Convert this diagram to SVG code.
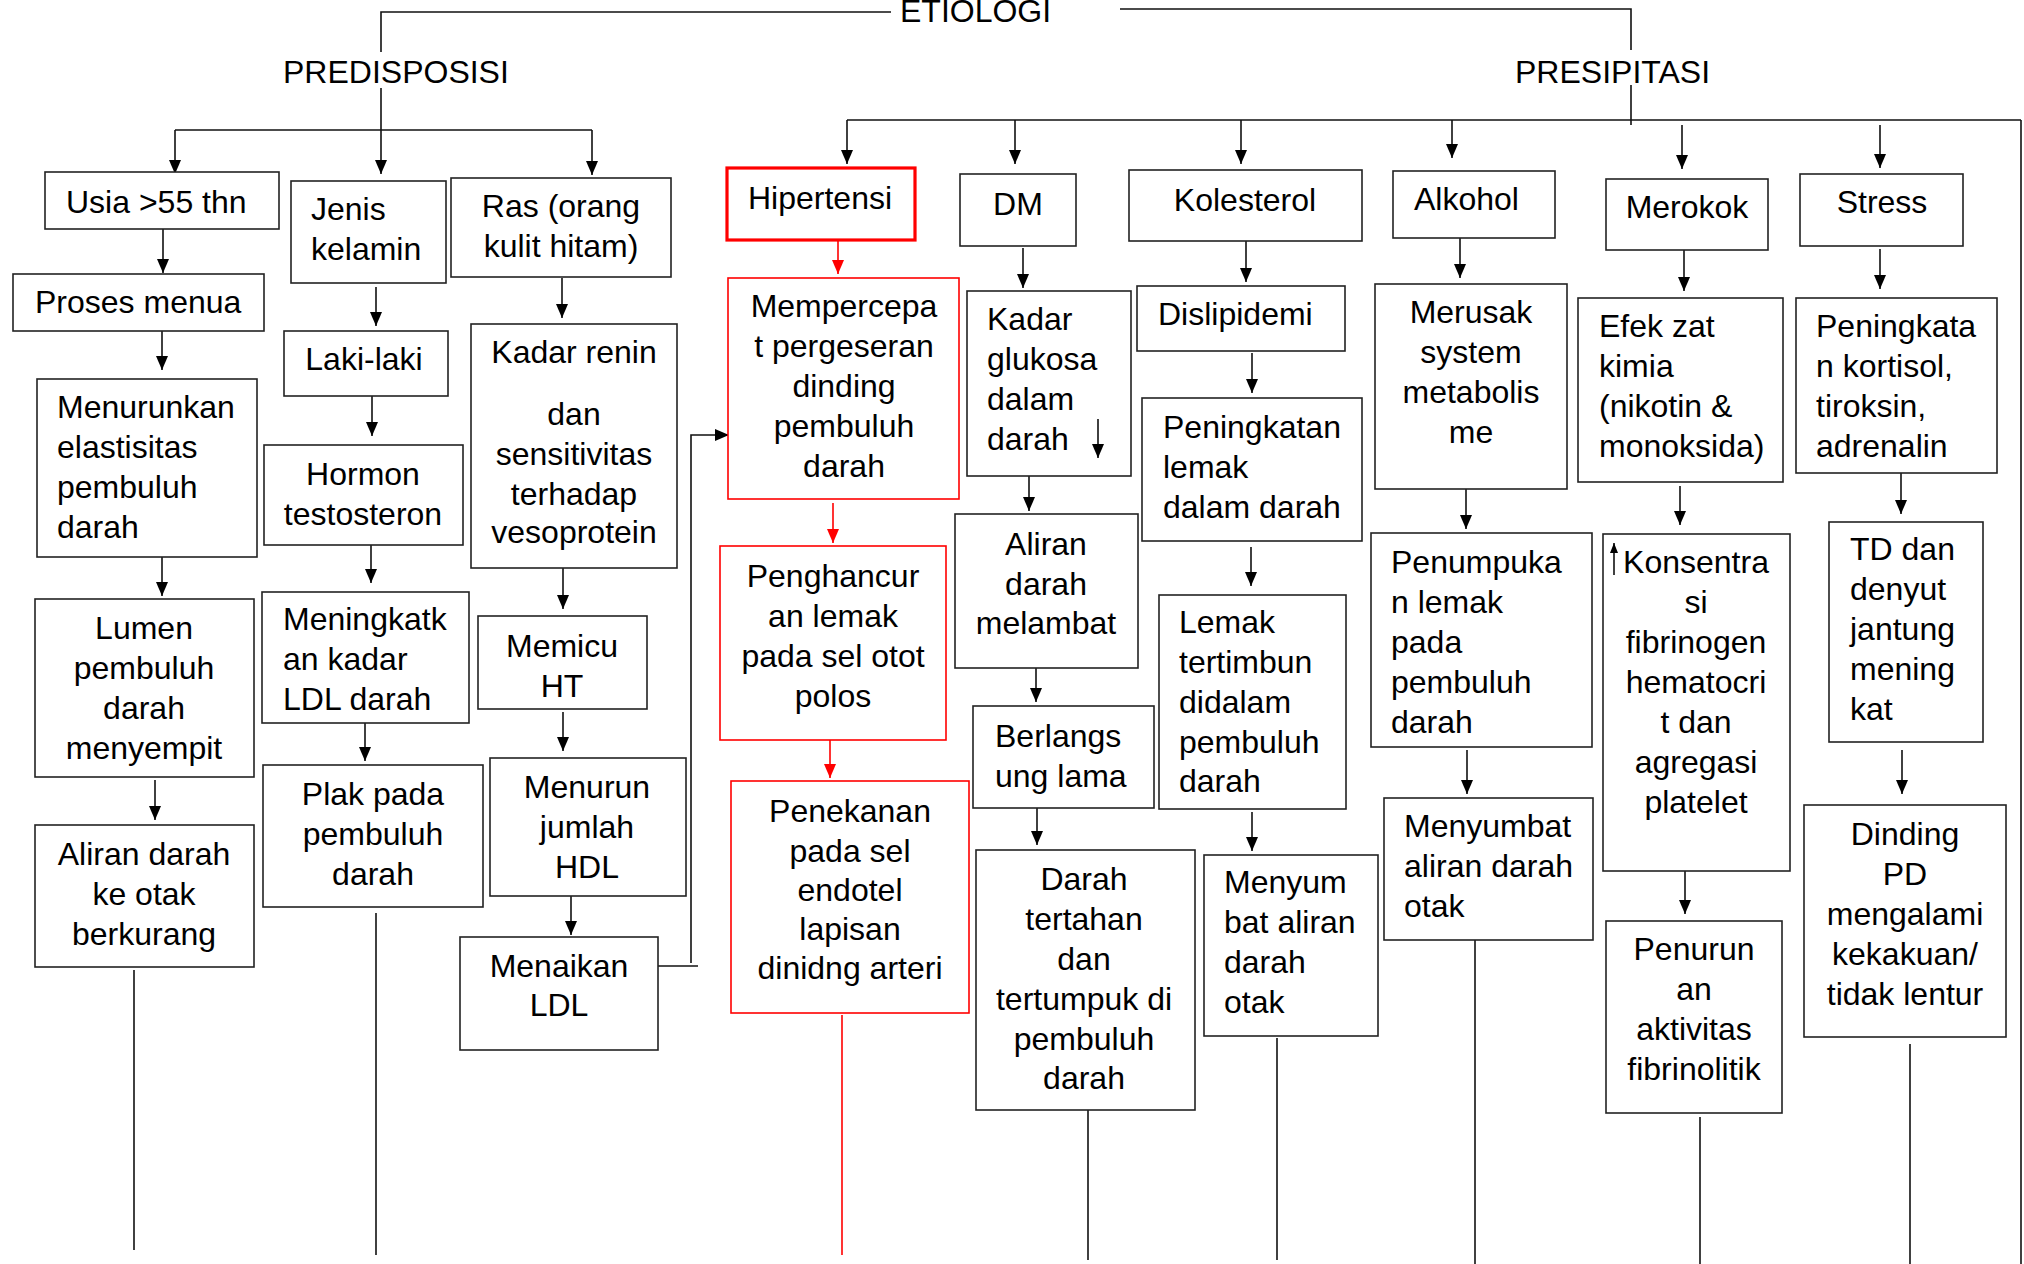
<svg xmlns="http://www.w3.org/2000/svg" width="2024" height="1264" viewBox="0 0 2024 1264">
  <style>
    .box { fill: #fff; stroke: #222; stroke-width: 1.6; }
    .rbox { fill: #fff; stroke: #f00; stroke-width: 1.6; }
    .rboxb { fill: #fff; stroke: #f00; stroke-width: 3.2; }
    .ln { fill: none; stroke: #111; stroke-width: 1.6; }
    .rln { fill: none; stroke: #f00; stroke-width: 1.6; }
    .arr { marker-end: url(#ah); }
    .rarr { marker-end: url(#rah); }
    text { font-family: "Liberation Sans", Arial, sans-serif; font-size: 32px; fill: #000; }
    .c { text-anchor: middle; }
  </style>
  <defs>
    <marker id="ah" markerUnits="userSpaceOnUse" markerWidth="14" markerHeight="14" viewBox="0 0 14 12" refX="14" refY="6" orient="auto">
      <path d="M0,0 L14,6 L0,12 Z" fill="#000"/>
    </marker>
    <marker id="rah" markerUnits="userSpaceOnUse" markerWidth="14" markerHeight="14" viewBox="0 0 14 12" refX="14" refY="6" orient="auto">
      <path d="M0,0 L14,6 L0,12 Z" fill="#f00"/>
    </marker>
    <marker id="ahs" markerUnits="userSpaceOnUse" markerWidth="10" markerHeight="10" viewBox="0 0 10 8" refX="10" refY="4" orient="auto">
      <path d="M0,0 L10,4 L0,8 Z" fill="#000"/>
    </marker>
  </defs>

  <rect width="2024" height="1264" fill="#fff"/>

  <!-- headings -->
  <g id="etiologi"><text x="900" y="22">ETIOLOGI</text></g>
  <g id="predisposisi"><text x="283" y="83">PREDISPOSISI</text></g>
  <g id="presipitasi"><text x="1515" y="83">PRESIPITASI</text></g>

  <g id="connectors">
    <!-- top bracket -->
    <polyline class="ln" points="381,52 381,12 891,12"/>
    <polyline class="ln" points="1120,9 1631,9 1631,50"/>
    <line class="ln" x1="1631" y1="85" x2="1631" y2="125"/>
    <!-- predisposisi branches -->
    <line class="ln arr" x1="381" y1="88" x2="381" y2="174"/>
    <polyline class="ln" points="175,130 592,130"/>
    <line class="ln arr" x1="175" y1="130" x2="175" y2="174"/>
    <line class="ln arr" x1="592" y1="130" x2="592" y2="175"/>
    <!-- presipitasi branches -->
    <line class="ln" x1="847" y1="120" x2="2021" y2="120"/>
    <line class="ln" x1="2021" y1="120" x2="2021" y2="1264"/>
    <line class="ln arr" x1="847" y1="120" x2="847" y2="164"/>
    <line class="ln arr" x1="1015" y1="120" x2="1015" y2="164"/>
    <line class="ln arr" x1="1241" y1="120" x2="1241" y2="164"/>
    <line class="ln arr" x1="1452" y1="120" x2="1452" y2="158"/>
    <line class="ln arr" x1="1682" y1="125" x2="1682" y2="169"/>
    <line class="ln arr" x1="1880" y1="125" x2="1880" y2="168"/>

    <!-- usia column -->
    <line class="ln arr" x1="163" y1="229" x2="163" y2="273"/>
    <line class="ln arr" x1="162" y1="331" x2="162" y2="370"/>
    <line class="ln arr" x1="162" y1="557" x2="162" y2="596"/>
    <line class="ln arr" x1="155" y1="780" x2="155" y2="820"/>
    <line class="ln" x1="134" y1="970" x2="134" y2="1250"/>
    <!-- jenis kelamin column -->
    <line class="ln arr" x1="376" y1="287" x2="376" y2="326"/>
    <line class="ln arr" x1="372" y1="396" x2="372" y2="436"/>
    <line class="ln arr" x1="371" y1="545" x2="371" y2="583"/>
    <line class="ln arr" x1="365" y1="722" x2="365" y2="761"/>
    <line class="ln" x1="376" y1="913" x2="376" y2="1255"/>
    <!-- ras column -->
    <line class="ln arr" x1="562" y1="278" x2="562" y2="318"/>
    <line class="ln arr" x1="563" y1="568" x2="563" y2="609"/>
    <line class="ln arr" x1="563" y1="712" x2="563" y2="751"/>
    <line class="ln arr" x1="571" y1="896" x2="571" y2="935"/>
    <line class="ln" x1="658" y1="966" x2="698" y2="966"/>
    <polyline class="ln arr" points="691,963 691,435 729,435"/>

    <!-- hipertensi column -->
    <line class="rln rarr" x1="838" y1="240" x2="838" y2="274"/>
    <line class="rln rarr" x1="833" y1="503" x2="833" y2="543"/>
    <line class="rln rarr" x1="830" y1="740" x2="830" y2="778"/>
    <line class="rln" x1="842" y1="1015" x2="842" y2="1255"/>
    <!-- dm column -->
    <line class="ln arr" x1="1023" y1="248" x2="1023" y2="288"/>
    <line class="ln arr" x1="1029" y1="476" x2="1029" y2="511"/>
    <line class="ln arr" x1="1036" y1="668" x2="1036" y2="702"/>
    <line class="ln arr" x1="1037" y1="808" x2="1037" y2="845"/>
    <line class="ln" x1="1088" y1="1108" x2="1088" y2="1260"/>
    <!-- kolesterol column -->
    <line class="ln arr" x1="1246" y1="241" x2="1246" y2="282"/>
    <line class="ln arr" x1="1252" y1="353" x2="1252" y2="393"/>
    <line class="ln arr" x1="1251" y1="547" x2="1251" y2="586"/>
    <line class="ln arr" x1="1252" y1="812" x2="1252" y2="851"/>
    <line class="ln" x1="1277" y1="1038" x2="1277" y2="1260"/>
    <!-- alkohol column -->
    <line class="ln arr" x1="1460" y1="238" x2="1460" y2="278"/>
    <line class="ln arr" x1="1466" y1="487" x2="1466" y2="529"/>
    <line class="ln arr" x1="1467" y1="750" x2="1467" y2="794"/>
    <line class="ln" x1="1475" y1="940" x2="1475" y2="1264"/>
    <!-- merokok column -->
    <line class="ln arr" x1="1684" y1="250" x2="1684" y2="291"/>
    <line class="ln arr" x1="1680" y1="486" x2="1680" y2="525"/>
    <line class="ln arr" x1="1685" y1="871" x2="1685" y2="914"/>
    <line class="ln" x1="1700" y1="1117" x2="1700" y2="1264"/>
    <!-- stress column -->
    <line class="ln arr" x1="1880" y1="249" x2="1880" y2="289"/>
    <line class="ln arr" x1="1901" y1="473" x2="1901" y2="514"/>
    <line class="ln arr" x1="1902" y1="750" x2="1902" y2="794"/>
    <line class="ln" x1="1910" y1="1044" x2="1910" y2="1264"/>
  </g>

  <!-- predisposisi nodes -->
  <g id="usia"><rect class="box" x="45" y="172" width="234" height="57"/>
    <text x="66" y="213">Usia &gt;55 thn</text></g>
  <g id="proses-menua"><rect class="box" x="13" y="274" width="251" height="57"/>
    <text x="35" y="313">Proses menua</text></g>
  <g id="menurunkan-elastisitas"><rect class="box" x="37" y="379" width="220" height="178"/>
    <text><tspan x="57" y="418">Menurunkan</tspan><tspan x="57" y="458">elastisitas</tspan><tspan x="57" y="498">pembuluh</tspan><tspan x="57" y="538">darah</tspan></text></g>
  <g id="lumen"><rect class="box" x="35" y="599" width="219" height="178"/>
    <text class="c"><tspan x="144" y="639">Lumen</tspan><tspan x="144" y="679">pembuluh</tspan><tspan x="144" y="719">darah</tspan><tspan x="144" y="759">menyempit</tspan></text></g>
  <g id="aliran-otak"><rect class="box" x="35" y="825" width="219" height="142"/>
    <text class="c"><tspan x="144" y="865">Aliran darah</tspan><tspan x="144" y="905">ke otak</tspan><tspan x="144" y="945">berkurang</tspan></text></g>

  <g id="jenis-kelamin"><rect class="box" x="291" y="181" width="155" height="102"/>
    <text><tspan x="311" y="220">Jenis</tspan><tspan x="311" y="260">kelamin</tspan></text></g>
  <g id="laki-laki"><rect class="box" x="284" y="331" width="164" height="65"/>
    <text class="c" x="364" y="370">Laki-laki</text></g>
  <g id="hormon"><rect class="box" x="264" y="445" width="199" height="100"/>
    <text class="c"><tspan x="363" y="485">Hormon</tspan><tspan x="363" y="525">testosteron</tspan></text></g>
  <g id="meningkatkan-ldl"><rect class="box" x="262" y="592" width="207" height="131"/>
    <text><tspan x="283" y="630">Meningkatk</tspan><tspan x="283" y="670">an kadar</tspan><tspan x="283" y="710">LDL darah</tspan></text></g>
  <g id="plak"><rect class="box" x="263" y="765" width="220" height="142"/>
    <text class="c"><tspan x="373" y="805">Plak pada</tspan><tspan x="373" y="845">pembuluh</tspan><tspan x="373" y="885">darah</tspan></text></g>

  <g id="ras"><rect class="box" x="451" y="178" width="220" height="99"/>
    <text class="c"><tspan x="561" y="217">Ras (orang</tspan><tspan x="561" y="257">kulit hitam)</tspan></text></g>
  <g id="kadar-renin"><rect class="box" x="471" y="324" width="206" height="244"/>
    <text class="c"><tspan x="574" y="363">Kadar renin</tspan><tspan x="574" y="425">dan</tspan><tspan x="574" y="465">sensitivitas</tspan><tspan x="574" y="505">terhadap</tspan><tspan x="574" y="543">vesoprotein</tspan></text></g>
  <g id="memicu-ht"><rect class="box" x="478" y="616" width="169" height="93"/>
    <text class="c"><tspan x="562" y="657">Memicu</tspan><tspan x="562" y="697">HT</tspan></text></g>
  <g id="menurun-hdl"><rect class="box" x="490" y="758" width="196" height="138"/>
    <text class="c"><tspan x="587" y="798">Menurun</tspan><tspan x="587" y="838">jumlah</tspan><tspan x="587" y="878">HDL</tspan></text></g>
  <g id="menaikan-ldl"><rect class="box" x="460" y="937" width="198" height="113"/>
    <text class="c"><tspan x="559" y="977">Menaikan</tspan><tspan x="559" y="1016">LDL</tspan></text></g>

  <!-- presipitasi nodes -->
  <g id="hipertensi"><rect class="rboxb" x="727" y="168" width="188" height="72"/>
    <text class="c" x="820" y="209">Hipertensi</text></g>
  <g id="mempercepat"><rect class="rbox" x="728" y="278" width="231" height="221"/>
    <text class="c"><tspan x="844" y="317">Mempercepa</tspan><tspan x="844" y="357">t pergeseran</tspan><tspan x="844" y="397">dinding</tspan><tspan x="844" y="437">pembuluh</tspan><tspan x="844" y="477">darah</tspan></text></g>
  <g id="penghancuran"><rect class="rbox" x="720" y="546" width="226" height="194"/>
    <text class="c"><tspan x="833" y="587">Penghancur</tspan><tspan x="833" y="627">an lemak</tspan><tspan x="833" y="667">pada sel otot</tspan><tspan x="833" y="707">polos</tspan></text></g>
  <g id="penekanan"><rect class="rbox" x="731" y="781" width="238" height="232"/>
    <text class="c"><tspan x="850" y="822">Penekanan</tspan><tspan x="850" y="862">pada sel</tspan><tspan x="850" y="901">endotel</tspan><tspan x="850" y="940">lapisan</tspan><tspan x="850" y="979">dinidng arteri</tspan></text></g>

  <g id="dm"><rect class="box" x="960" y="174" width="116" height="72"/>
    <text class="c" x="1018" y="215">DM</text></g>
  <g id="kadar-glukosa"><rect class="box" x="967" y="291" width="164" height="185"/>
    <text><tspan x="987" y="330">Kadar</tspan><tspan x="987" y="370">glukosa</tspan><tspan x="987" y="410">dalam</tspan><tspan x="987" y="450">darah</tspan></text>
    <!-- "decreasing" sign next to the text -->
    <line class="ln arr" x1="1098" y1="419" x2="1098" y2="458"/></g>
  <g id="aliran-melambat"><rect class="box" x="955" y="514" width="183" height="154"/>
    <text class="c"><tspan x="1046" y="555">Aliran</tspan><tspan x="1046" y="595">darah</tspan><tspan x="1046" y="634">melambat</tspan></text></g>
  <g id="berlangsung"><rect class="box" x="973" y="706" width="181" height="102"/>
    <text><tspan x="995" y="747">Berlangs</tspan><tspan x="995" y="787">ung lama</tspan></text></g>
  <g id="darah-tertahan"><rect class="box" x="976" y="850" width="219" height="260"/>
    <text class="c"><tspan x="1084" y="890">Darah</tspan><tspan x="1084" y="930">tertahan</tspan><tspan x="1084" y="970">dan</tspan><tspan x="1084" y="1010">tertumpuk di</tspan><tspan x="1084" y="1050">pembuluh</tspan><tspan x="1084" y="1089">darah</tspan></text></g>

  <g id="kolesterol"><rect class="box" x="1129" y="170" width="233" height="71"/>
    <text class="c" x="1245" y="211">Kolesterol</text></g>
  <g id="dislipidemi"><rect class="box" x="1137" y="286" width="208" height="65"/>
    <text x="1158" y="325">Dislipidemi</text></g>
  <g id="peningkatan-lemak"><rect class="box" x="1142" y="398" width="220" height="143"/>
    <text><tspan x="1163" y="438">Peningkatan</tspan><tspan x="1163" y="478">lemak</tspan><tspan x="1163" y="518">dalam darah</tspan></text></g>
  <g id="lemak-tertimbun"><rect class="box" x="1159" y="595" width="187" height="214"/>
    <text><tspan x="1179" y="633">Lemak</tspan><tspan x="1179" y="673">tertimbun</tspan><tspan x="1179" y="713">didalam</tspan><tspan x="1179" y="753">pembuluh</tspan><tspan x="1179" y="792">darah</tspan></text></g>
  <g id="menyumbat-otak-1"><rect class="box" x="1204" y="855" width="174" height="181"/>
    <text><tspan x="1224" y="893">Menyum</tspan><tspan x="1224" y="933">bat aliran</tspan><tspan x="1224" y="973">darah</tspan><tspan x="1224" y="1013">otak</tspan></text></g>

  <g id="alkohol"><rect class="box" x="1393" y="171" width="162" height="67"/>
    <text x="1414" y="210">Alkohol</text></g>
  <g id="merusak-metabolisme"><rect class="box" x="1375" y="284" width="192" height="205"/>
    <text class="c"><tspan x="1471" y="323">Merusak</tspan><tspan x="1471" y="363">system</tspan><tspan x="1471" y="403">metabolis</tspan><tspan x="1471" y="443">me</tspan></text></g>
  <g id="penumpukan-lemak"><rect class="box" x="1371" y="533" width="221" height="214"/>
    <text><tspan x="1391" y="573">Penumpuka</tspan><tspan x="1391" y="613">n lemak</tspan><tspan x="1391" y="653">pada</tspan><tspan x="1391" y="693">pembuluh</tspan><tspan x="1391" y="733">darah</tspan></text></g>
  <g id="menyumbat-otak-2"><rect class="box" x="1384" y="798" width="209" height="142"/>
    <text><tspan x="1404" y="837">Menyumbat</tspan><tspan x="1404" y="877">aliran darah</tspan><tspan x="1404" y="917">otak</tspan></text></g>

  <g id="merokok"><rect class="box" x="1606" y="179" width="162" height="71"/>
    <text class="c" x="1687" y="218">Merokok</text></g>
  <g id="efek-zat-kimia"><rect class="box" x="1578" y="298" width="205" height="184"/>
    <text><tspan x="1599" y="337">Efek zat</tspan><tspan x="1599" y="377">kimia</tspan><tspan x="1599" y="417">(nikotin &amp;</tspan><tspan x="1599" y="457">monoksida)</tspan></text></g>
  <g id="konsentrasi"><rect class="box" x="1603" y="534" width="187" height="337"/>
    <!-- "increasing" sign before the text -->
    <line class="ln" x1="1614" y1="575" x2="1614" y2="543" marker-end="url(#ahs)"/>
    <text class="c"><tspan x="1696" y="573">Konsentra</tspan><tspan x="1696" y="613">si</tspan><tspan x="1696" y="653">fibrinogen</tspan><tspan x="1696" y="693">hematocri</tspan><tspan x="1696" y="733">t dan</tspan><tspan x="1696" y="773">agregasi</tspan><tspan x="1696" y="813">platelet</tspan></text></g>
  <g id="penurunan-fibrinolitik"><rect class="box" x="1606" y="921" width="176" height="192"/>
    <text class="c"><tspan x="1694" y="960">Penurun</tspan><tspan x="1694" y="1000">an</tspan><tspan x="1694" y="1040">aktivitas</tspan><tspan x="1694" y="1080">fibrinolitik</tspan></text></g>

  <g id="stress"><rect class="box" x="1800" y="174" width="163" height="72"/>
    <text class="c" x="1882" y="213">Stress</text></g>
  <g id="peningkatan-kortisol"><rect class="box" x="1796" y="298" width="201" height="175"/>
    <text><tspan x="1816" y="337">Peningkata</tspan><tspan x="1816" y="377">n kortisol,</tspan><tspan x="1816" y="417">tiroksin,</tspan><tspan x="1816" y="457">adrenalin</tspan></text></g>
  <g id="td-denyut"><rect class="box" x="1829" y="522" width="154" height="220"/>
    <text><tspan x="1850" y="560">TD dan</tspan><tspan x="1850" y="600">denyut</tspan><tspan x="1850" y="640">jantung</tspan><tspan x="1850" y="680">mening</tspan><tspan x="1850" y="720">kat</tspan></text></g>
  <g id="dinding-pd"><rect class="box" x="1804" y="805" width="202" height="232"/>
    <text class="c"><tspan x="1905" y="845">Dinding</tspan><tspan x="1905" y="885">PD</tspan><tspan x="1905" y="925">mengalami</tspan><tspan x="1905" y="965">kekakuan/</tspan><tspan x="1905" y="1005">tidak lentur</tspan></text></g>
</svg>
